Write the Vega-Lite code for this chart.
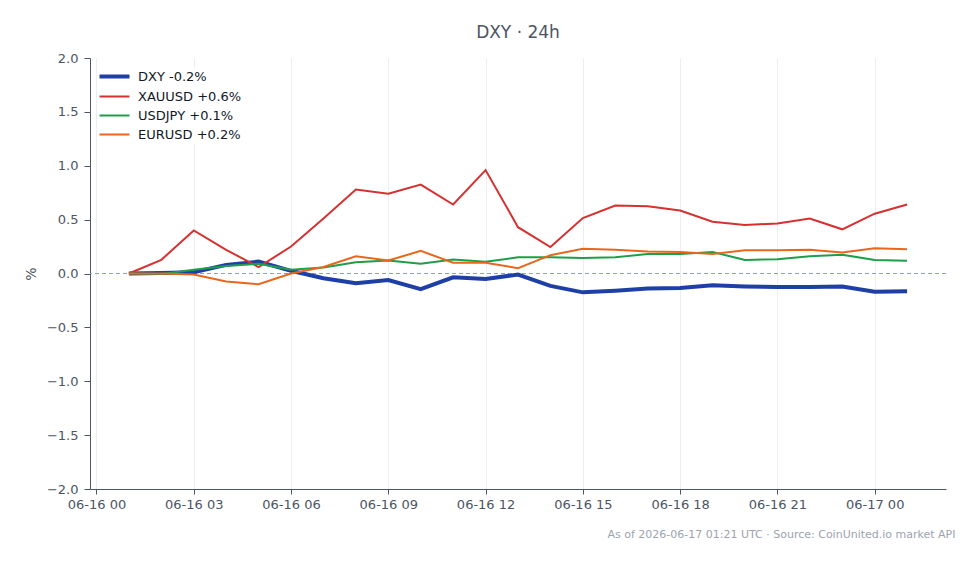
{
  "$schema": "https://vega.github.io/schema/vega-lite/v6.json",
  "width": 979,
  "height": 564,
  "autosize": {"type": "fit", "contains": "padding"},
  "padding": {"left": 24, "top": 24, "right": 32, "bottom": 25},
  "background": "white",
  "config": {
    "font": "DejaVu Sans",
    "view": {"stroke": null},
    "axis": {
      "labelFont": "DejaVu Sans",
      "labelFontSize": 13,
      "labelColor": "#4b5563",
      "domainColor": "#4b5563",
      "tickColor": "#4b5563",
      "gridColor": "#eceef2",
      "titleFont": "DejaVu Sans"
    }
  },
  "title": {
    "text": "DXY · 24h",
    "anchor": "middle",
    "fontSize": 17,
    "fontWeight": "normal",
    "color": "#4b5563",
    "offset": 10
  },
  "data": {
    "values": [
      {"t": "2026-06-16T01:00:00Z", "s": "DXY -0.2%", "v": 0},
      {"t": "2026-06-16T02:00:00Z", "s": "DXY -0.2%", "v": 0.005},
      {"t": "2026-06-16T03:00:00Z", "s": "DXY -0.2%", "v": 0.012},
      {"t": "2026-06-16T04:00:00Z", "s": "DXY -0.2%", "v": 0.08},
      {"t": "2026-06-16T05:00:00Z", "s": "DXY -0.2%", "v": 0.11},
      {"t": "2026-06-16T06:00:00Z", "s": "DXY -0.2%", "v": 0.025},
      {"t": "2026-06-16T07:00:00Z", "s": "DXY -0.2%", "v": -0.044},
      {"t": "2026-06-16T08:00:00Z", "s": "DXY -0.2%", "v": -0.09},
      {"t": "2026-06-16T09:00:00Z", "s": "DXY -0.2%", "v": -0.06},
      {"t": "2026-06-16T10:00:00Z", "s": "DXY -0.2%", "v": -0.145},
      {"t": "2026-06-16T11:00:00Z", "s": "DXY -0.2%", "v": -0.035},
      {"t": "2026-06-16T12:00:00Z", "s": "DXY -0.2%", "v": -0.05},
      {"t": "2026-06-16T13:00:00Z", "s": "DXY -0.2%", "v": -0.01},
      {"t": "2026-06-16T14:00:00Z", "s": "DXY -0.2%", "v": -0.115},
      {"t": "2026-06-16T15:00:00Z", "s": "DXY -0.2%", "v": -0.175},
      {"t": "2026-06-16T16:00:00Z", "s": "DXY -0.2%", "v": -0.16},
      {"t": "2026-06-16T17:00:00Z", "s": "DXY -0.2%", "v": -0.14},
      {"t": "2026-06-16T18:00:00Z", "s": "DXY -0.2%", "v": -0.135},
      {"t": "2026-06-16T19:00:00Z", "s": "DXY -0.2%", "v": -0.11},
      {"t": "2026-06-16T20:00:00Z", "s": "DXY -0.2%", "v": -0.12},
      {"t": "2026-06-16T21:00:00Z", "s": "DXY -0.2%", "v": -0.125},
      {"t": "2026-06-16T22:00:00Z", "s": "DXY -0.2%", "v": -0.125},
      {"t": "2026-06-16T23:00:00Z", "s": "DXY -0.2%", "v": -0.12},
      {"t": "2026-06-17T00:00:00Z", "s": "DXY -0.2%", "v": -0.17},
      {"t": "2026-06-17T01:00:00Z", "s": "DXY -0.2%", "v": -0.165},
      {"t": "2026-06-16T01:00:00Z", "s": "XAUUSD +0.6%", "v": 0},
      {"t": "2026-06-16T02:00:00Z", "s": "XAUUSD +0.6%", "v": 0.127},
      {"t": "2026-06-16T03:00:00Z", "s": "XAUUSD +0.6%", "v": 0.40},
      {"t": "2026-06-16T04:00:00Z", "s": "XAUUSD +0.6%", "v": 0.22},
      {"t": "2026-06-16T05:00:00Z", "s": "XAUUSD +0.6%", "v": 0.06},
      {"t": "2026-06-16T06:00:00Z", "s": "XAUUSD +0.6%", "v": 0.25},
      {"t": "2026-06-16T07:00:00Z", "s": "XAUUSD +0.6%", "v": 0.51},
      {"t": "2026-06-16T08:00:00Z", "s": "XAUUSD +0.6%", "v": 0.78},
      {"t": "2026-06-16T09:00:00Z", "s": "XAUUSD +0.6%", "v": 0.74},
      {"t": "2026-06-16T10:00:00Z", "s": "XAUUSD +0.6%", "v": 0.825},
      {"t": "2026-06-16T11:00:00Z", "s": "XAUUSD +0.6%", "v": 0.64},
      {"t": "2026-06-16T12:00:00Z", "s": "XAUUSD +0.6%", "v": 0.96},
      {"t": "2026-06-16T13:00:00Z", "s": "XAUUSD +0.6%", "v": 0.43},
      {"t": "2026-06-16T14:00:00Z", "s": "XAUUSD +0.6%", "v": 0.245},
      {"t": "2026-06-16T15:00:00Z", "s": "XAUUSD +0.6%", "v": 0.515},
      {"t": "2026-06-16T16:00:00Z", "s": "XAUUSD +0.6%", "v": 0.63},
      {"t": "2026-06-16T17:00:00Z", "s": "XAUUSD +0.6%", "v": 0.625},
      {"t": "2026-06-16T18:00:00Z", "s": "XAUUSD +0.6%", "v": 0.585},
      {"t": "2026-06-16T19:00:00Z", "s": "XAUUSD +0.6%", "v": 0.48},
      {"t": "2026-06-16T20:00:00Z", "s": "XAUUSD +0.6%", "v": 0.45},
      {"t": "2026-06-16T21:00:00Z", "s": "XAUUSD +0.6%", "v": 0.465},
      {"t": "2026-06-16T22:00:00Z", "s": "XAUUSD +0.6%", "v": 0.51},
      {"t": "2026-06-16T23:00:00Z", "s": "XAUUSD +0.6%", "v": 0.41},
      {"t": "2026-06-17T00:00:00Z", "s": "XAUUSD +0.6%", "v": 0.555},
      {"t": "2026-06-17T01:00:00Z", "s": "XAUUSD +0.6%", "v": 0.64},
      {"t": "2026-06-16T01:00:00Z", "s": "USDJPY +0.1%", "v": 0},
      {"t": "2026-06-16T02:00:00Z", "s": "USDJPY +0.1%", "v": -0.005},
      {"t": "2026-06-16T03:00:00Z", "s": "USDJPY +0.1%", "v": 0.035},
      {"t": "2026-06-16T04:00:00Z", "s": "USDJPY +0.1%", "v": 0.07},
      {"t": "2026-06-16T05:00:00Z", "s": "USDJPY +0.1%", "v": 0.09},
      {"t": "2026-06-16T06:00:00Z", "s": "USDJPY +0.1%", "v": 0.035},
      {"t": "2026-06-16T07:00:00Z", "s": "USDJPY +0.1%", "v": 0.055},
      {"t": "2026-06-16T08:00:00Z", "s": "USDJPY +0.1%", "v": 0.105},
      {"t": "2026-06-16T09:00:00Z", "s": "USDJPY +0.1%", "v": 0.12},
      {"t": "2026-06-16T10:00:00Z", "s": "USDJPY +0.1%", "v": 0.09},
      {"t": "2026-06-16T11:00:00Z", "s": "USDJPY +0.1%", "v": 0.13},
      {"t": "2026-06-16T12:00:00Z", "s": "USDJPY +0.1%", "v": 0.11},
      {"t": "2026-06-16T13:00:00Z", "s": "USDJPY +0.1%", "v": 0.15},
      {"t": "2026-06-16T14:00:00Z", "s": "USDJPY +0.1%", "v": 0.15},
      {"t": "2026-06-16T15:00:00Z", "s": "USDJPY +0.1%", "v": 0.145},
      {"t": "2026-06-16T16:00:00Z", "s": "USDJPY +0.1%", "v": 0.15},
      {"t": "2026-06-16T17:00:00Z", "s": "USDJPY +0.1%", "v": 0.18},
      {"t": "2026-06-16T18:00:00Z", "s": "USDJPY +0.1%", "v": 0.18},
      {"t": "2026-06-16T19:00:00Z", "s": "USDJPY +0.1%", "v": 0.20},
      {"t": "2026-06-16T20:00:00Z", "s": "USDJPY +0.1%", "v": 0.125},
      {"t": "2026-06-16T21:00:00Z", "s": "USDJPY +0.1%", "v": 0.133},
      {"t": "2026-06-16T22:00:00Z", "s": "USDJPY +0.1%", "v": 0.16},
      {"t": "2026-06-16T23:00:00Z", "s": "USDJPY +0.1%", "v": 0.175},
      {"t": "2026-06-17T00:00:00Z", "s": "USDJPY +0.1%", "v": 0.125},
      {"t": "2026-06-17T01:00:00Z", "s": "USDJPY +0.1%", "v": 0.118},
      {"t": "2026-06-16T01:00:00Z", "s": "EURUSD +0.2%", "v": 0},
      {"t": "2026-06-16T02:00:00Z", "s": "EURUSD +0.2%", "v": 0.0},
      {"t": "2026-06-16T03:00:00Z", "s": "EURUSD +0.2%", "v": -0.01},
      {"t": "2026-06-16T04:00:00Z", "s": "EURUSD +0.2%", "v": -0.075},
      {"t": "2026-06-16T05:00:00Z", "s": "EURUSD +0.2%", "v": -0.10},
      {"t": "2026-06-16T06:00:00Z", "s": "EURUSD +0.2%", "v": 0.0},
      {"t": "2026-06-16T07:00:00Z", "s": "EURUSD +0.2%", "v": 0.06},
      {"t": "2026-06-16T08:00:00Z", "s": "EURUSD +0.2%", "v": 0.16},
      {"t": "2026-06-16T09:00:00Z", "s": "EURUSD +0.2%", "v": 0.12},
      {"t": "2026-06-16T10:00:00Z", "s": "EURUSD +0.2%", "v": 0.21},
      {"t": "2026-06-16T11:00:00Z", "s": "EURUSD +0.2%", "v": 0.10},
      {"t": "2026-06-16T12:00:00Z", "s": "EURUSD +0.2%", "v": 0.10},
      {"t": "2026-06-16T13:00:00Z", "s": "EURUSD +0.2%", "v": 0.05},
      {"t": "2026-06-16T14:00:00Z", "s": "EURUSD +0.2%", "v": 0.17},
      {"t": "2026-06-16T15:00:00Z", "s": "EURUSD +0.2%", "v": 0.23},
      {"t": "2026-06-16T16:00:00Z", "s": "EURUSD +0.2%", "v": 0.22},
      {"t": "2026-06-16T17:00:00Z", "s": "EURUSD +0.2%", "v": 0.205},
      {"t": "2026-06-16T18:00:00Z", "s": "EURUSD +0.2%", "v": 0.20},
      {"t": "2026-06-16T19:00:00Z", "s": "EURUSD +0.2%", "v": 0.18},
      {"t": "2026-06-16T20:00:00Z", "s": "EURUSD +0.2%", "v": 0.215},
      {"t": "2026-06-16T21:00:00Z", "s": "EURUSD +0.2%", "v": 0.215},
      {"t": "2026-06-16T22:00:00Z", "s": "EURUSD +0.2%", "v": 0.22},
      {"t": "2026-06-16T23:00:00Z", "s": "EURUSD +0.2%", "v": 0.195},
      {"t": "2026-06-17T00:00:00Z", "s": "EURUSD +0.2%", "v": 0.235},
      {"t": "2026-06-17T01:00:00Z", "s": "EURUSD +0.2%", "v": 0.226}
    ]
  },
  "layer": [
    {
      "mark": {"type": "rule", "color": "#8c9fcc", "strokeDash": [4, 3], "strokeWidth": 1},
      "encoding": {"y": {"datum": 0}}
    },
    {
      "encoding": {
        "x": {
          "field": "t",
          "type": "temporal",
          "scale": {
            "type": "utc",
            "domain": [1781567280000, 1781662320000]
          },
          "axis": {
            "format": "%m-%d %H",
            "values": [1781568000000, 1781578800000, 1781589600000, 1781600400000, 1781611200000, 1781622000000, 1781632800000, 1781643600000, 1781654400000],
            "labelPadding": 4,
            "tickSize": 5,
            "labelFlush": false,
            "labelOverlap": false,
            "title": "As of 2026-06-17 01:21 UTC · Source: CoinUnited.io market API",
            "titleFontSize": 11,
            "titleFontWeight": "normal",
            "titleColor": "#9ca3af",
            "titleAnchor": "end",
            "titleAlign": "right",
            "titleX": 865,
            "titlePadding": 17
          }
        },
        "y": {
          "field": "v",
          "type": "quantitative",
          "scale": {"domain": [-2, 2], "nice": false, "zero": false},
          "axis": {
            "values": [-2, -1.5, -1, -0.5, 0, 0.5, 1, 1.5, 2],
            "format": ".1f",
            "title": "%",
            "titleFontSize": 14,
            "titleFontWeight": "normal",
            "titleColor": "#4b5563",
            "titlePadding": 8,
            "tickSize": 6,
            "labelPadding": 6
          }
        },
        "color": {
          "field": "s",
          "type": "nominal",
          "scale": {
            "domain": ["DXY -0.2%", "XAUUSD +0.6%", "USDJPY +0.1%", "EURUSD +0.2%"],
            "range": ["#1e3fa6", "#d63131", "#1f9e4a", "#e8671c"]
          },
          "legend": {
            "title": null,
            "orient": "none",
            "legendX": 16,
            "legendY": 10,
            "symbolType": "stroke",
            "symbolSize": 900,
            "symbolStrokeWidth": 2,
            "labelFontSize": 13,
            "labelColor": "#111827",
            "labelOffset": 17,
            "rowPadding": 5,
            "fillColor": "white",
            "padding": 2,
            "encode": {
              "symbols": {
                "update": {
                  "strokeWidth": {"signal": "datum.value === 'DXY -0.2%' ? 4 : 2"}
                }
              }
            }
          }
        }
      },
      "layer": [
        {
          "transform": [{"filter": "datum.s === 'DXY -0.2%'"}],
          "mark": {"type": "line", "strokeWidth": 4}
        },
        {
          "transform": [{"filter": "datum.s !== 'DXY -0.2%'"}],
          "mark": {"type": "line", "strokeWidth": 2}
        }
      ]
    }
  ]
}
